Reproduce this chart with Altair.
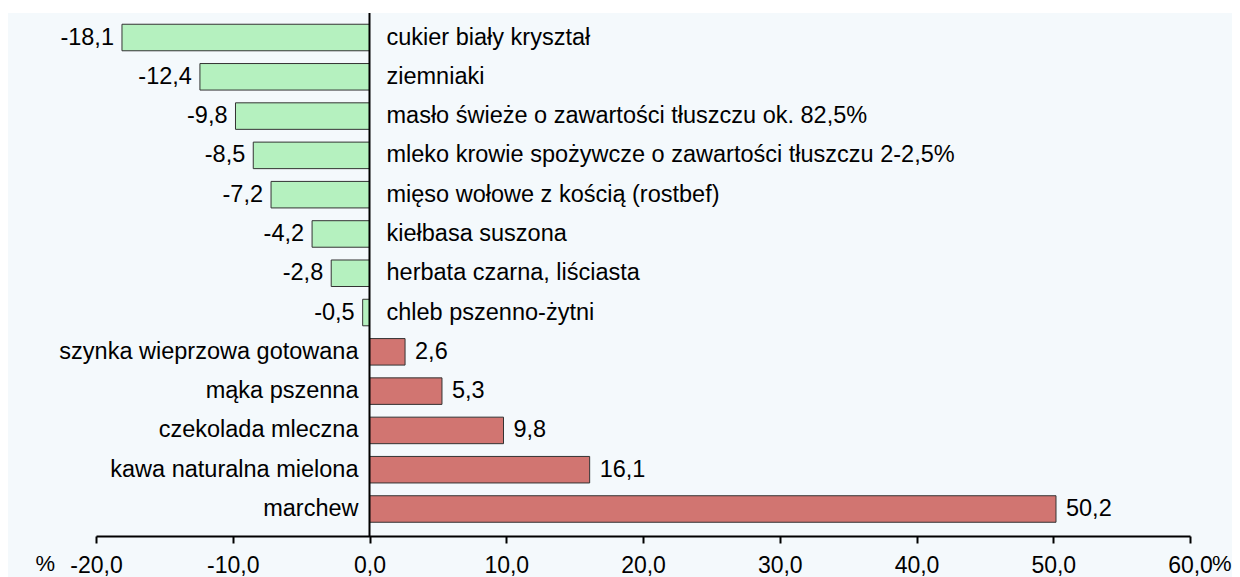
import altair as alt
import pandas as pd

categories = [
    "cukier biały kryształ",
    "ziemniaki",
    "masło świeże o zawartości tłuszczu ok. 82,5%",
    "mleko krowie spożywcze o zawartości tłuszczu 2-2,5%",
    "mięso wołowe z kością (rostbef)",
    "kiełbasa suszona",
    "herbata czarna, liściasta",
    "chleb pszenno-żytni",
    "szynka wieprzowa gotowana",
    "mąka pszenna",
    "czekolada mleczna",
    "kawa naturalna mielona",
    "marchew",
]
values = [-18.1, -12.4, -9.8, -8.5, -7.2, -4.2, -2.8, -0.5, 2.6, 5.3, 9.8, 16.1, 50.2]
x_ticks = [-20, -10, 0, 10, 20, 30, 40, 50, 60]

df = pd.DataFrame({"cat": categories, "val": values})

W = 1094
H = 523
FONT = "Liberation Sans"
FS = 23.5
AFS = 23
GREEN = "#b5f1bf"
RED = "#d17571"
BG = "#f4f9fc"

xscale = alt.Scale(domain=[-20, 60], nice=False, zero=False)
yscale = alt.Scale(domain=categories, paddingInner=0.325, paddingOuter=0.318, align=0.45)

base = alt.Chart(df).transform_calculate(
    lab="(datum.val < 0 ? '-' : '') + replace(format(abs(datum.val), '.1f'), '.', ',')"
)

bg = alt.Chart(pd.DataFrame({"a": [0]})).mark_rect(color=BG).encode(
    x=alt.value(-88), x2=alt.value(W + 60), y=alt.value(0), y2=alt.value(H + 60)
)

bars = base.mark_bar(stroke="#333333", strokeWidth=1).encode(
    x=alt.X(
        "val:Q",
        scale=xscale,
        axis=alt.Axis(
            values=x_ticks,
            grid=False,
            zindex=2,
            domainColor="black",
            domainWidth=2,
            tickColor="black",
            tickWidth=2,
            tickSize=7,
            labelPadding=11,
            labelFlush=False,
            labelOverlap=False,
            labelFont=FONT,
            labelFontSize=AFS,
            labelColor="black",
            labelBaseline="top",
            labelExpr="(datum.value < 0 ? '-' : '') + replace(format(abs(datum.value), '.1f'), '.', ',')",
            title=None,
        ),
    ),
    x2=alt.datum(0),
    y=alt.Y("cat:N", scale=yscale, axis=None, sort=categories),
    color=alt.condition(alt.datum.val < 0, alt.value(GREEN), alt.value(RED)),
)

zero = alt.Chart(pd.DataFrame({"a": [0]})).mark_rule(color="black", strokeWidth=2).encode(
    x=alt.datum(0, scale=xscale), y=alt.value(0), y2=alt.value(H)
)

txt = dict(font=FONT, fontSize=FS, color="black", baseline="middle")

neg_val = base.transform_filter("datum.val < 0").mark_text(align="right", dx=-8, **txt).encode(
    x=alt.X("val:Q", scale=xscale), y=alt.Y("cat:N", scale=yscale, sort=categories), text="lab:N"
)
pos_val = base.transform_filter("datum.val >= 0").mark_text(align="left", dx=10, **txt).encode(
    x=alt.X("val:Q", scale=xscale), y=alt.Y("cat:N", scale=yscale, sort=categories), text="lab:N"
)
neg_cat = base.transform_filter("datum.val < 0").mark_text(align="left", dx=17, **txt).encode(
    x=alt.datum(0, scale=xscale), y=alt.Y("cat:N", scale=yscale, sort=categories), text="cat:N"
)
pos_cat = base.transform_filter("datum.val >= 0").mark_text(align="right", dx=-11, **txt).encode(
    x=alt.datum(0, scale=xscale), y=alt.Y("cat:N", scale=yscale, sort=categories), text="cat:N"
)

pct = alt.Chart(pd.DataFrame({"a": [0]}))
pct_left = pct.mark_text(align="right", baseline="top", dx=-41, font=FONT, fontSize=22, color="black").encode(
    x=alt.datum(-20, scale=xscale), y=alt.value(H + 18), text=alt.value("%")
)
pct_right = pct.mark_text(align="left", baseline="top", dx=22, font=FONT, fontSize=22, color="black").encode(
    x=alt.datum(60, scale=xscale), y=alt.value(H + 18), text=alt.value("%")
)

chart = alt.layer(
    bg, bars, zero, neg_val, pos_val, neg_cat, pos_cat, pct_left, pct_right
).properties(
    width=W,
    height=H,
    background="white",
    padding={"left": 88, "top": 5, "right": 42, "bottom": 41},
    autosize=alt.AutoSizeParams(type="none"),
).configure_view(stroke=None)

chart.save("out.html", embed_options={"renderer": "svg", "actions": False})
